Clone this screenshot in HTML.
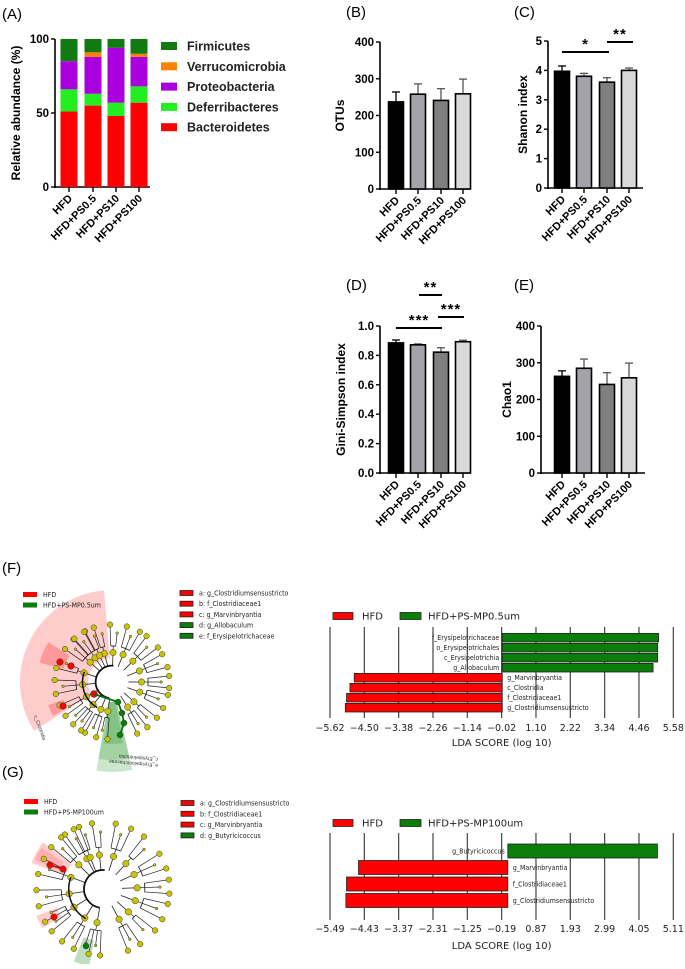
<!DOCTYPE html>
<html><head><meta charset="utf-8"><style>
body{margin:0;background:#fff}
svg text{font-family:"Liberation Sans",sans-serif}
.b{font-weight:bold}
.dv{font-family:"DejaVu Sans","Liberation Sans",sans-serif}
.dc{font-family:"DejaVu Sans Condensed","DejaVu Sans",sans-serif}
</style></head><body>
<svg id="fig" width="685" height="964" viewBox="0 0 685 964" xmlns="http://www.w3.org/2000/svg">
<text x="2" y="19" font-size="15">(A)</text>
<text x="346" y="17" font-size="15">(B)</text>
<text x="514" y="17" font-size="15">(C)</text>
<text x="346" y="290" font-size="15">(D)</text>
<text x="514" y="290" font-size="15">(E)</text>
<text x="2" y="573" font-size="15">(F)</text>
<text x="2" y="777" font-size="15">(G)</text>
<g id="gA"></g>
<g id="gB"></g>
<g id="gC"></g>
<g id="gD"></g>
<g id="gE"></g>
<g id="gF"></g>
<g id="gG"></g>
<g id="gLF"></g>
<g id="gLG"></g>
</svg>
<script>
// ---------- data ----------
const categories = ["HFD","HFD+PS0.5","HFD+PS10","HFD+PS100"];
const phyla = ["Bacteroidetes","Deferribacteres","Proteobacteria","Verrucomicrobia","Firmicutes"];
const bacteroidetes = [51,55,48,57];
const deferribacteres = [15,8,9,11];
const proteobacteria = [19,25,37,20];
const verrucomicrobia = [0,3,0,2];
const firmicutes = [15,9,6,10];
const ticksA = [0,50,100];
const otuValues = [237,258,241,259];
const otuErrors = [27,28,32,40];
const ticksB = [0,100,200,300,400];
const shannonValues = [3.97,3.80,3.60,4.00];
const shannonErrors = [0.18,0.10,0.15,0.08];
const ticksC = [0,1,2,3,4,5];
const giniValues = [0.885,0.872,0.822,0.893];
const giniErrors = [0.02,0.006,0.03,0.01];
const ticksD = [0.0,0.2,0.4,0.6,0.8,1.0];
const chaoValues = [263,285,241,259];
const chaoErrors = [15,25,32,40];
const ticksE = [0,100,200,300,400];
const ldaFLabels = ["f_Erysipelotrichaceae","o_Erysipelotrichales","c_Erysipelotrichia","g_Allobaculum","g_Marvinbryantia","c_Clostridia","f_Clostridiaceae1","g_Clostridiumsensustricto"];
const ldaFValues = [5.10,5.07,5.07,4.92,-4.83,-4.97,-5.08,-5.12];
const ldaFTicks = [-5.62,-4.50,-3.38,-2.26,-1.14,-0.02,1.10,2.22,3.34,4.46,5.58];
const ldaGLabels = ["g_Butyricicoccus","g_Marvinbryantia","f_Clostridiaceae1","g_Clostridiumsensustricto"];
const ldaGValues = [4.62,-4.61,-4.98,-5.00];
const ldaGTicks = [-5.49,-4.43,-3.37,-2.31,-1.25,-0.19,0.87,1.93,2.99,4.05,5.11];

const NS="http://www.w3.org/2000/svg";
function el(parent,tag,attrs,text){const e=document.createElementNS(NS,tag);for(const k in attrs)e.setAttribute(k,attrs[k]);if(text!==undefined)e.textContent=text;parent.appendChild(e);return e;}
const fmt=(t,dec)=>t.toFixed(dec);

function frame(g,o){
  const y=v=>o.bottom-(v-o.min)/(o.max-o.min)*(o.bottom-o.top);
  el(g,'line',{x1:o.ax,y1:o.top,x2:o.ax,y2:o.bottom+1,stroke:'#000','stroke-width':1.6});
  el(g,'line',{x1:o.ax-1,y1:o.bottom,x2:o.end,y2:o.bottom,stroke:'#000','stroke-width':1.6});
  o.ticks.forEach(t=>{
    el(g,'line',{x1:o.ax-4,y1:y(t),x2:o.ax,y2:y(t),stroke:'#000','stroke-width':1.4});
    const tl=el(g,'text',{x:o.ax-6,y:y(t)+4,'font-size':11.5,'text-anchor':'end',class:'b'},fmt(t,o.dec));
    
    
  });
  o.centers.forEach((c,i)=>{
    el(g,'line',{x1:c,y1:o.bottom,x2:c,y2:o.bottom+5,stroke:'#000','stroke-width':1.4});
    const t=el(g,'text',{x:c+4,y:o.bottom+12,'font-size':11,'text-anchor':'end',class:'b',transform:`rotate(-45 ${c+4} ${o.bottom+12})`},categories[i]);
    
    
  });
  const tt=el(g,'text',{x:o.tx,y:(o.top+o.bottom)/2,'font-size':12,'text-anchor':'middle',class:'b',transform:`rotate(-90 ${o.tx} ${(o.top+o.bottom)/2})`},o.title);
  
  
  return y;
}
const greys=['#000000','#a3a3aa','#7f7f7f','#d9d9d9'];
function barChart(g,o,vals,errs){
  const y=frame(g,o);
  vals.forEach((v,i)=>{
    const c=o.centers[i],w=15;
    const ye=y(v+errs[i]);
    el(g,'line',{x1:c,y1:y(v),x2:c,y2:ye,stroke:i==0?'#000':'#555','stroke-width':1.3});
    el(g,'line',{x1:c-4,y1:ye,x2:c+4,y2:ye,stroke:i==0?'#000':'#555','stroke-width':1.3});
    const r=el(g,'rect',{x:c-w/2,y:y(v),width:w,height:o.bottom-y(v),fill:greys[i],stroke:'#000','stroke-width':1.6});
    
    
  });
  return y;
}
function sig(g,x1,x2,y,stars){
  el(g,'line',{x1:x1,y1:y,x2:x2,y2:y,stroke:'#000','stroke-width':2});
  const t=el(g,'text',{x:(x1+x2)/2,y:y-3,'font-size':15,'text-anchor':'middle',class:'b','letter-spacing':'1'},stars);
  
  
}

// ---------- Panel A ----------
(function(){
  const g=document.getElementById('gA');
  const o={ax:55,end:150,top:39,bottom:187,min:0,max:100,ticks:ticksA,dec:0,centers:[69,93,116,139],tx:20,title:'Relative abundance (%)'};
  const y=frame(g,o);
  const series=[bacteroidetes,deferribacteres,proteobacteria,verrucomicrobia,firmicutes];
  const cols=['#ff0000','#22ee22','#aa00dd','#ff8000','#117a11'];
  categories.forEach((c,i)=>{
    let acc=0;
    series.forEach((s,k)=>{
      const r=el(g,'rect',{x:o.centers[i]-8.5,y:y(acc+s[i]),width:17,height:y(acc)-y(acc+s[i]),fill:cols[k]});
      
      
      acc+=s[i];
    });
  });
  const order=[4,3,2,1,0];
  order.forEach((k,j)=>{
    const yy=46+j*20.3;
    const r=el(g,'rect',{x:161,y:yy-4,width:16,height:8,fill:cols[k]});
    
    
    const t=el(g,'text',{x:187,y:yy+4.5,'font-size':12.5,class:'b',fill:'#222'},phyla[k]);
    
    
  });
})();
// ---------- B-E ----------
barChart(document.getElementById('gB'),{ax:380,end:470,top:42,bottom:189,min:0,max:400,ticks:ticksB,dec:0,centers:[396,418,441,463],tx:344,title:'OTUs'},otuValues,otuErrors);
barChart(document.getElementById('gC'),{ax:548,end:643,top:41,bottom:188,min:0,max:5,ticks:ticksC,dec:0,centers:[562,584,607,629],tx:527,title:'Shanon index'},shannonValues,shannonErrors);
sig(document.getElementById('gC'),562,609,52,'*');
sig(document.getElementById('gC'),607,633,42,'**');
barChart(document.getElementById('gD'),{ax:380,end:470,top:326,bottom:473,min:0,max:1,ticks:ticksD,dec:1,centers:[396,418,441,463],tx:345,title:'Gini-Simpson index'},giniValues,giniErrors);
sig(document.getElementById('gD'),396,442,328,'***');
sig(document.getElementById('gD'),419,442,295,'**');
sig(document.getElementById('gD'),438,464,317,'***');
barChart(document.getElementById('gE'),{ax:541,end:645,top:326,bottom:473,min:0,max:400,ticks:ticksE,dec:0,centers:[562,584,607,629],tx:511,title:'Chao1'},chaoValues,chaoErrors);

// ---------- LDA charts ----------
function lda(g,o,labels,vals,ticks,legend2){
  const x=v=>o.x0+(v-ticks[0])*(o.x1-o.x0)/(ticks[ticks.length-1]-ticks[0]);
  ticks.forEach(t=>{
    el(g,'line',{x1:x(t),y1:o.gTop,x2:x(t),y2:o.gBot,stroke:'#444','stroke-width':1.2});
    const tl=el(g,'text',{x:x(t),y:o.tickY,'font-size':9.5,'text-anchor':'middle',class:'dv',fill:'#222'},t.toFixed(2).replace('-','\u2212'));
    
    
  });
  const tt=el(g,'text',{x:(o.x0+o.x1)/2,y:o.titleY,'font-size':10,'text-anchor':'middle',class:'dv',fill:'#222'},'LDA SCORE (log 10)');
  
  
  vals.forEach((v,i)=>{
    const yc=o.row0+i*o.step;
    const x0=x(0),xv=x(v);
    const r=el(g,'rect',{x:Math.min(x0,xv),y:yc-o.h/2,width:Math.abs(xv-x0),height:o.h,fill:v>0?'#0a7d0a':'#ff0000',stroke:'#222','stroke-width':0.8});
    
    
    const t=el(g,'text',{x:v>0?x0-3:x0+5,y:yc+2.5,'font-size':7,'text-anchor':v>0?'end':'start',class:'dc',fill:'#222'},labels[i]);
    
    
  });
  const ly=o.legY;
  const r1=el(g,'rect',{x:333,y:ly-3.5,width:20,height:7,fill:'#ff0000',stroke:'#222','stroke-width':0.8});
  
  
  const t1=el(g,'text',{x:362,y:ly+3.5,'font-size':10,class:'dv',fill:'#222'},'HFD');
  
  
  const r2=el(g,'rect',{x:400,y:ly-3.5,width:21,height:7,fill:'#0a7d0a',stroke:'#222','stroke-width':0.8});
  
  
  const t2=el(g,'text',{x:428,y:ly+3.5,'font-size':10,class:'dv',fill:'#222'},legend2);
  
  
}
lda(document.getElementById('gLF'),{x0:330,x1:673.3,gTop:627,gBot:718,row0:637.7,step:10,h:8.6,tickY:731,titleY:746,legY:616},ldaFLabels,ldaFValues,ldaFTicks,'HFD+PS-MP0.5um');
lda(document.getElementById('gLG'),{x0:330,x1:673.3,gTop:833,gBot:920,row0:851,step:16.5,h:14,tickY:932,titleY:949,legY:823},ldaGLabels,ldaGValues,ldaGTicks,'HFD+PS-MP100um');

// ---------- cladograms ----------
function P(cx,cy,r,a){const t=a*Math.PI/180;return [cx+r*Math.cos(t),cy+r*Math.sin(t)];}
function sector(g,cx,cy,r1,r2,a1,a2,fill){
  const [x1,y1]=P(cx,cy,r2,a1),[x2,y2]=P(cx,cy,r2,a2),[x3,y3]=P(cx,cy,r1,a2),[x4,y4]=P(cx,cy,r1,a1);
  const lg=(a2-a1)>180?1:0;
  const p=el(g,'path',{d:`M${x1},${y1} A${r2},${r2} 0 ${lg} 1 ${x2},${y2} L${x3},${y3} A${r1},${r1} 0 ${lg} 0 ${x4},${y4} Z`,fill:fill});
  
  
}
function arc(g,cx,cy,r,a1,a2,w){
  const [x1,y1]=P(cx,cy,r,a1),[x2,y2]=P(cx,cy,r,a2);
  el(g,'path',{d:`M${x1},${y1} A${r},${r} 0 ${(a2-a1)>180?1:0} 1 ${x2},${y2}`,fill:'none',stroke:'#111','stroke-width':w});
}
function node(g,x,y,r,fill){
  const c=el(g,'circle',{cx:x,cy:y,r:r,fill:fill,stroke:'#333','stroke-width':0.5});
  
  
}
const cladeGroupsF=[[-125,3,7],[-105,2,7],[-88,2,8],[-68,3,7],[-45,3,8],[-22,3,7],[0,3,6],[20,3,7],[42,2,7],[58,3,6],[98,2,7],[112,3,6],[130,4,5],[150,3,6],[175,3,7],[198,2,8],[222,3,7],[245,2,8]];
const cladeGroupsG=[[-118,3,7],[-96,2,7],[-72,3,7],[-48,2,8],[-25,3,7],[-2,3,6],[20,3,7],[42,2,7],[62,3,6],[100,4,5],[122,3,6],[148,4,5],[172,3,7],[200,3,7],[225,3,6],[248,2,8]];
function tree(g,cx,cy,s,groups){
  const Y='#c8c400';
  groups.forEach(([a,n,sp])=>{
    const [ax,ay]=P(cx,cy,20*s,a),[bx,by]=P(cx,cy,36*s,a);
    el(g,'line',{x1:ax,y1:ay,x2:bx,y2:by,stroke:'#222','stroke-width':0.8});
    arc(g,cx,cy,44*s,a-(n-1)/2*sp,a+(n-1)/2*sp+0.01,0.8);
    for(let i=0;i<n;i++){
      const b=a+(i-(n-1)/2)*sp;
      const [p1x,p1y]=P(cx,cy,44*s,b),[p2x,p2y]=P(cx,cy,(i%2?60:70)*s,b);
      el(g,'line',{x1:p1x,y1:p1y,x2:p2x,y2:p2y,stroke:'#222','stroke-width':0.7});
      node(g,p2x,p2y,i%2?1.3:2.8,Y);
    }
    el(g,'line',{x1:bx,y1:by,x2:P(cx,cy,44*s,a)[0],y2:P(cx,cy,44*s,a)[1],stroke:'#222','stroke-width':0.7});
    node(g,bx,by,3.2,Y);
  });
  arc(g,cx,cy,20*s,100,275,1.8);
  arc(g,cx,cy,36*s,120,200,1.5);
}
(function(){
  const g=document.getElementById('gF');const cx=112,cy=682;
  sector(g,cx,cy,24,92,148,265,'rgba(255,0,0,0.2)');
  sector(g,cx,cy,50,75,195,212,'rgba(255,0,0,0.25)');
  sector(g,cx,cy,52,68,150,160,'rgba(255,0,0,0.25)');
  sector(g,cx,cy,20,90,77,100,'rgba(0,128,0,0.2)');
  sector(g,cx,cy,20,78,77,100,'rgba(0,128,0,0.2)');
  sector(g,cx,cy,20,62,80,97,'rgba(0,128,0,0.2)');
  tree(g,cx,cy,0.82,cladeGroupsF);
  node(g,94,694,3.5,'#ff0000');node(g,60,662,3.3,'#ff0000');node(g,71,666,3.3,'#ff0000');node(g,63,706,3.3,'#ff0000');
  el(g,'path',{d:'M94,694 L118,702 L122,713 L124,723 L120,735',fill:'none',stroke:'#0a6e0a','stroke-width':1.8});
  node(g,118,702,3,'#0a7d0a');node(g,122,713,3,'#0a7d0a');node(g,124,723,3,'#0a7d0a');node(g,120,735,3,'#0a7d0a');
  el(g,'text',{x:34,y:716,'font-size':5,transform:'rotate(70 34 716)',fill:'#333'},'c_Clostridia');
  el(g,'text',{x:158,y:758,'font-size':5,transform:'rotate(185 158 758)',fill:'#333'},'c_Erysipelotrichia');
  el(g,'text',{x:158,y:764,'font-size':5,transform:'rotate(185 158 764)',fill:'#333'},'e_Erysipelotrichaceae');
  const lg=[['HFD','#ff0000',594.5],['HFD+PS-MP0.5um','#0a7d0a',605]];
  lg.forEach(([t,c,y])=>{el(g,'rect',{x:23,y:y-2.5,width:14,height:5,fill:c});const tx=el(g,'text',{x:43,y:y+2.5,'font-size':7,class:'dc',fill:'#222'},t);});
  const items=[['a: g_Clostridiumsensustricto','#ff0000'],['b: f_Clostridiaceae1','#ff0000'],['c: g_Marvinbryantia','#ff0000'],['d: g_Allobaculum','#0a7d0a'],['e: f_Erysipelotrichaceae','#0a7d0a']];
  items.forEach(([t,c],i)=>{const y=593+i*10.7;el(g,'rect',{x:180,y:y-2.5,width:13,height:5,fill:c,stroke:'#222','stroke-width':0.8});const tx=el(g,'text',{x:199,y:y+2.5,'font-size':7,class:'dc',fill:'#222'},t);});
})();
(function(){
  const g=document.getElementById('gG');const cx=103,cy=889;
  sector(g,cx,cy,40,76,200,218,'rgba(255,0,0,0.2)');
  sector(g,cx,cy,48,74,203,214,'rgba(255,0,0,0.15)');
  sector(g,cx,cy,50,72,147,158,'rgba(255,0,0,0.2)');
  sector(g,cx,cy,52,78,100,112,'rgba(0,128,0,0.25)');
  tree(g,cx,cy,0.95,cladeGroupsG);
  el(g,'line',{x1:50,y1:865,x2:63,y2:869,stroke:'#c00','stroke-width':1.5});
  node(g,50,865,3.2,'#ff0000');node(g,63,869,3.2,'#ff0000');node(g,54,917,3.2,'#ff0000');node(g,86,946,3,'#0a7d0a');
  const lg=[['HFD','#ff0000',801.5],['HFD+PS-MP100um','#0a7d0a',812]];
  lg.forEach(([t,c,y])=>{el(g,'rect',{x:24,y:y-2.5,width:14,height:5,fill:c});const tx=el(g,'text',{x:44,y:y+2.5,'font-size':7,class:'dc',fill:'#222'},t);});
  const items=[['a: g_Clostridiumsensustricto','#ff0000'],['b: f_Clostridiaceae1','#ff0000'],['c: g_Marvinbryantia','#ff0000'],['d: g_Butyricicoccus','#0a7d0a']];
  items.forEach(([t,c],i)=>{const y=803+i*10.8;el(g,'rect',{x:181,y:y-2.5,width:13,height:5,fill:c,stroke:'#222','stroke-width':0.8});const tx=el(g,'text',{x:200,y:y+2.5,'font-size':7,class:'dc',fill:'#222'},t);});
})();
</script>
</body></html>
